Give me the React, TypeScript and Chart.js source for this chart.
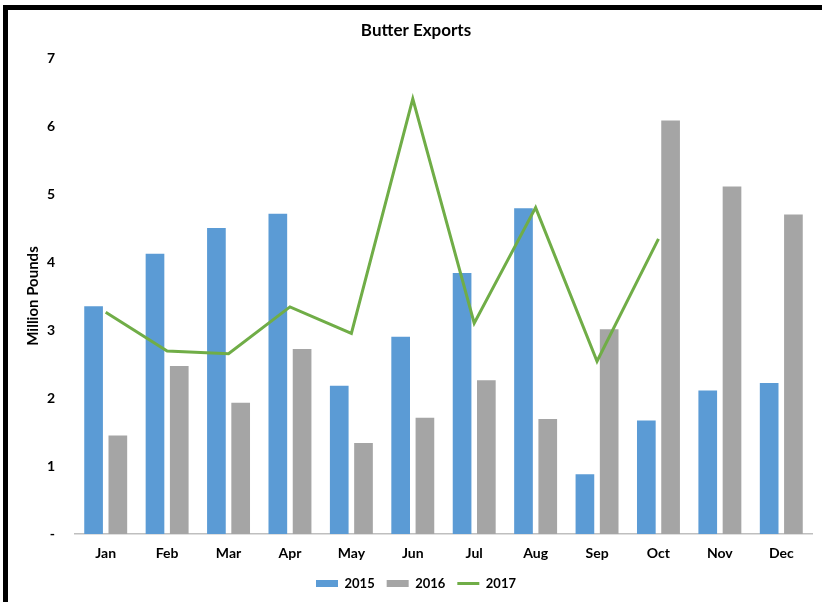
import React, { useEffect, useRef } from "react";
import { Chart, registerables } from "chart.js";

Chart.register(...registerables);

const months = ["Jan", "Feb", "Mar", "Apr", "May", "Jun", "Jul", "Aug", "Sep", "Oct", "Nov", "Dec"];
const exports2015 = [3.35, 4.12, 4.5, 4.71, 2.18, 2.9, 3.84, 4.79, 0.88, 1.67, 2.11, 2.22];
const exports2016 = [1.45, 2.47, 1.93, 2.72, 1.34, 1.71, 2.26, 1.69, 3.01, 6.08, 5.11, 4.7];
const exports2017 = [3.26, 2.69, 2.65, 3.34, 2.95, 6.4, 3.1, 4.8, 2.54, 4.34, null, null];
const yTicks = [0, 1, 2, 3, 4, 5, 6, 7];

const FONT = "Lato, 'Open Sans', sans-serif";

export default function App() {
  const ref = useRef<HTMLCanvasElement | null>(null);

  useEffect(() => {
    if (!ref.current) return;
    const chart = new Chart(ref.current, {
      data: {
        labels: months,
        datasets: [
          {
            type: "bar",
            label: "2015",
            data: exports2015,
            backgroundColor: "#5B9BD5",
            borderWidth: 0,
            order: 1,
            categoryPercentage: 0.79,
            barPercentage: 0.77,
          },
          {
            type: "bar",
            label: "2016",
            data: exports2016,
            backgroundColor: "#A5A5A5",
            borderWidth: 0,
            order: 1,
            categoryPercentage: 0.79,
            barPercentage: 0.77,
          },
          {
            type: "line",
            label: "2017",
            data: exports2017,
            borderColor: "#70AD47",
            backgroundColor: "#70AD47",
            borderWidth: 3,
            pointRadius: 0,
            tension: 0,
            spanGaps: false,
            order: 0,
          },
        ],
      } as any,
      options: {
        responsive: false,
        animation: false,
        layout: { padding: { left: 12, right: 10, top: 0, bottom: 2 } },
        plugins: {
          title: {
            display: true,
            text: "Butter Exports",
            color: "#000",
            font: { family: FONT, size: 17, weight: "bold" },
            padding: { top: 10, bottom: 17.6 },
          },
          legend: {
            position: "bottom",
            labels: {
              usePointStyle: true,
              pointStyleWidth: 22,
              boxHeight: 7,
              padding: 12,
              color: "#000",
              font: { family: FONT, size: 13, weight: "bold" },
              sort: (a: any, b: any) => a.datasetIndex - b.datasetIndex,
              generateLabels: (chart: any) => {
                const items = Chart.defaults.plugins.legend.labels.generateLabels(chart);
                return items.map((it: any) => {
                  if (it.datasetIndex === 2) {
                    return { ...it, pointStyle: "line", strokeStyle: "#70AD47", lineWidth: 3 };
                  }
                  return { ...it, pointStyle: "rect", lineWidth: 0 };
                });
              },
            },
          },
          tooltip: { enabled: false },
        },
        scales: {
          x: {
            grid: { display: false, drawTicks: false },
            border: { display: true, color: "#BFBFBF", width: 1.5 },
            ticks: {
              color: "#000",
              padding: 10.6,
              font: { family: FONT, size: 14, weight: "bold" },
            },
            afterFit: (scale: any) => {
              scale.height = 31;
            },
          },
          y: {
            min: 0,
            max: 7,
            grid: { display: false, drawTicks: false },
            border: { display: false },
            afterBuildTicks: (scale: any) => {
              scale.ticks = yTicks.map((v) => ({ value: v }));
            },
            ticks: {
              color: "#000",
              padding: 20,
              font: { family: FONT, size: 14, weight: "bold" },
              callback: (v: any) => (Number(v) === 0 ? "-" : String(v)),
            },
            title: {
              display: true,
              text: "Million Pounds",
              color: "#000",
              font: { family: FONT, size: 15, weight: "bold" },
              padding: { top: 4, bottom: 0 },
            },
            afterFit: (scale: any) => {
              scale.width = 55;
            },
          },
        },
      } as any,
    });
    return () => chart.destroy();
  }, []);

  return (
    <div
      style={{
        position: "absolute",
        left: 3,
        top: 5,
        width: 820,
        height: 600,
        borderTop: "5px solid #000",
        borderLeft: "5px solid #000",
        background: "#fff",
      }}
    >
      <canvas ref={ref} width={814} height={592} style={{ display: "block", width: 814, height: 592 }} />
    </div>
  );
}
